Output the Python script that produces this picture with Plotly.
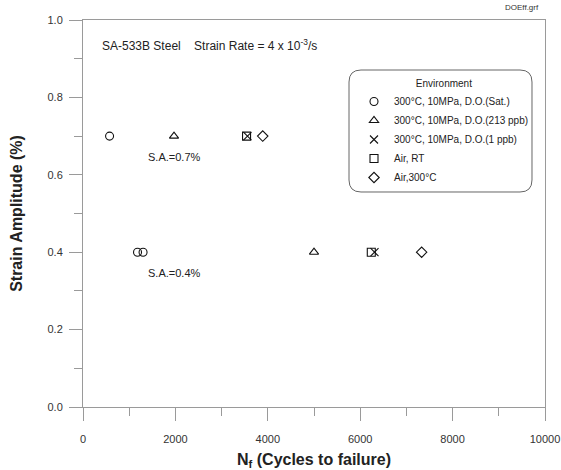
import plotly.graph_objects as go

# Fatigue life data, SA-533B steel, strain rate 4e-3/s
environments = [
    "300\u00b0C, 10MPa, D.O.(Sat.)",
    "300\u00b0C, 10MPa, D.O.(213 ppb)",
    "300\u00b0C, 10MPa, D.O.(1 ppb)",
    "Air, RT",
    "Air,300\u00b0C",
]
symbols = ["circle-open", "triangle-up-open", "x-thin-open", "square-open", "diamond-open"]

# cycles to failure per environment
nf_sat = [575, 1180, 1300]
sa_sat = [0.7, 0.4, 0.4]
nf_213 = [1970, 5000]
sa_213 = [0.7, 0.4]
nf_1ppb = [3560, 6310]
sa_1ppb = [0.7, 0.4]
nf_air_rt = [3540, 6240]
sa_air_rt = [0.7, 0.4]
nf_air_300 = [3890, 7330]
sa_air_300 = [0.7, 0.4]

nf_sets = [nf_sat, nf_213, nf_1ppb, nf_air_rt, nf_air_300]
sa_sets = [sa_sat, sa_213, sa_1ppb, sa_air_rt, sa_air_300]

sa_levels = [0.7, 0.4]
sa_label_x = 1970

x_ticks = [0, 2000, 4000, 6000, 8000, 10000]
x_tick_text = ["0", "2000", "4000", "6000", "8000", "10000"]
y_ticks = [0.0, 0.2, 0.4, 0.6, 0.8, 1.0]

W, H = 561, 470
L, R, T, B = 83, 545, 20, 407

def px_x(p):
    return (p - L) / (R - L)

def px_y(p):
    return (B - p) / (B - T)

fig = go.Figure()
for name, sym, nf, sa in zip(environments, symbols, nf_sets, sa_sets):
    fig.add_trace(go.Scatter(
        x=nf, y=sa, mode="markers", name=name,
        marker=dict(symbol=sym, size=8, color="#111",
                    line=dict(width=1.1, color="#111")),
    ))

axis_col = "#9a9a9a"
font_fam = "Liberation Sans, Arial, sans-serif"
tick_font = dict(family=font_fam, size=11, color="#333")

fig.update_xaxes(
    range=[0, 10000], tickvals=x_ticks, ticktext=x_tick_text,
    ticks="outside", ticklen=13, ticklabelstandoff=9, automargin=False,
    tickcolor=axis_col, tickwidth=1, showline=True, linecolor=axis_col,
    linewidth=1, mirror=True, showgrid=False, zeroline=False,
    tickfont=tick_font,
    minor=dict(dtick=1000, ticks="outside", ticklen=8, tickcolor=axis_col, showgrid=False),
    title=dict(text="<b>N<sub>f</sub> (Cycles to failure)</b>", standoff=14,
               font=dict(family=font_fam, size=16, color="#222")),
)
fig.update_yaxes(
    range=[0, 1], tickvals=y_ticks, tickformat=".1f", ticks="outside", ticklen=13,
    ticklabelstandoff=4, automargin=False,
    tickcolor=axis_col, tickwidth=1, showline=True, linecolor=axis_col,
    linewidth=1, mirror=True, showgrid=False, zeroline=False,
    tickfont=tick_font,
    minor=dict(dtick=0.1, ticks="outside", ticklen=8, tickcolor=axis_col, showgrid=False),
    title=dict(text="<b>Strain Amplitude (%)</b>", standoff=20,
               font=dict(family=font_fam, size=16, color="#222")),
)

annotations = [
    dict(text="SA-533B Steel\u00a0\u00a0\u00a0\u00a0Strain Rate = 4 x 10<sup>-3</sup>/s",
         xref="paper", yref="paper", x=px_x(100), y=px_y(45),
         xanchor="left", yanchor="middle", showarrow=False,
         font=dict(family=font_fam, size=12, color="#222")),
    dict(text="DOEff.grf", xref="paper", yref="paper", x=px_x(541), y=px_y(8),
         xanchor="right", yanchor="middle", showarrow=False,
         font=dict(family=font_fam, size=8, color="#333")),
]
for lv in sa_levels:
    annotations.append(dict(
        text=f"S.A.={lv}%", x=sa_label_x, y=lv, xref="x", yref="y",
        yshift=-21, showarrow=False, xanchor="center",
        font=dict(family=font_fam, size=11, color="#222")))

# rounded frame behind the legend
bx0, bx1, by0, by1, rr = 349, 532, 70, 192, 12
path = (f"M {px_x(bx0 + rr):.5f},{px_y(by0):.5f} "
        f"L {px_x(bx1 - rr):.5f},{px_y(by0):.5f} "
        f"Q {px_x(bx1):.5f},{px_y(by0):.5f} {px_x(bx1):.5f},{px_y(by0 + rr):.5f} "
        f"L {px_x(bx1):.5f},{px_y(by1 - rr):.5f} "
        f"Q {px_x(bx1):.5f},{px_y(by1):.5f} {px_x(bx1 - rr):.5f},{px_y(by1):.5f} "
        f"L {px_x(bx0 + rr):.5f},{px_y(by1):.5f} "
        f"Q {px_x(bx0):.5f},{px_y(by1):.5f} {px_x(bx0):.5f},{px_y(by1 - rr):.5f} "
        f"L {px_x(bx0):.5f},{px_y(by0 + rr):.5f} "
        f"Q {px_x(bx0):.5f},{px_y(by0):.5f} {px_x(bx0 + rr):.5f},{px_y(by0):.5f} Z")

fig.update_layout(
    width=W, height=H,
    margin=dict(l=L, r=W - R, t=T, b=H - B, autoexpand=False),
    paper_bgcolor="white", plot_bgcolor="white",
    annotations=annotations,
    shapes=[dict(type="path", path=path, xref="paper", yref="paper",
                 line=dict(color="#666", width=1), fillcolor="rgba(0,0,0,0)", layer="below")],
    legend=dict(
        x=px_x(354), y=px_y(74), xanchor="left", yanchor="top",
        bgcolor="rgba(0,0,0,0)", borderwidth=0,
        font=dict(family=font_fam, size=10, color="#222"),
        title=dict(text="Environment", side="top center",
                   font=dict(family=font_fam, size=10, color="#222")),
        itemwidth=30,
    ),
    showlegend=True,
)

fig.write_html("out.html")
